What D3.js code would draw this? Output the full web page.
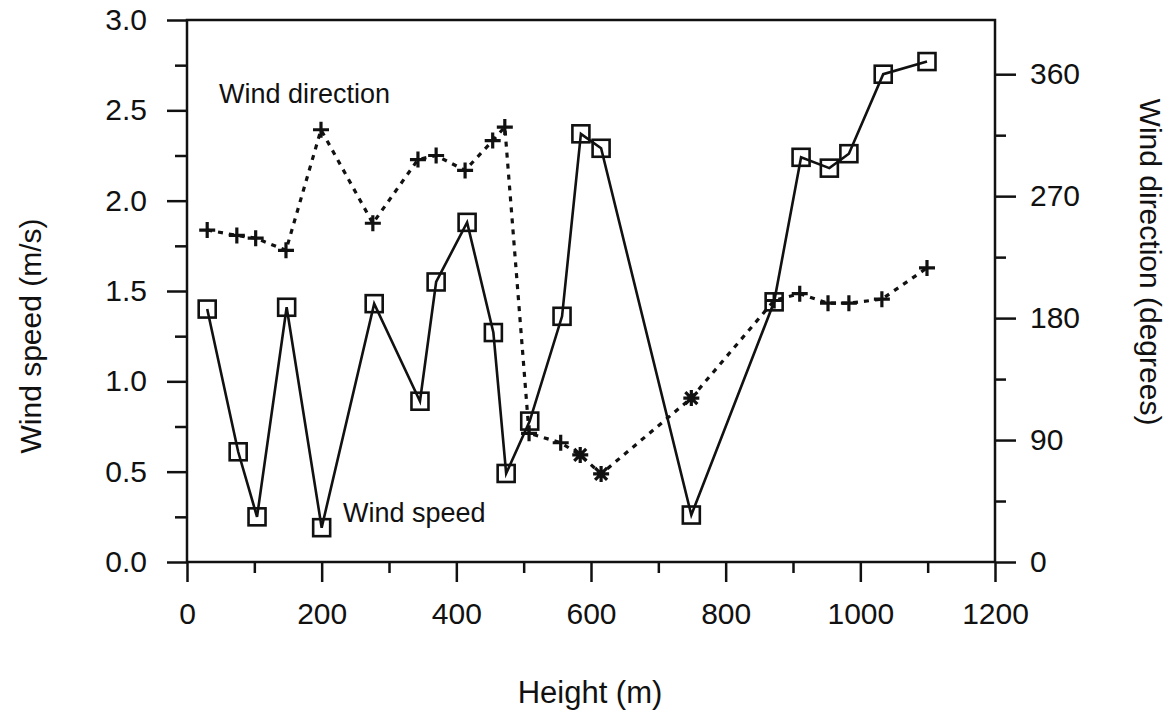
<!DOCTYPE html>
<html>
<head>
<meta charset="utf-8">
<script src="https://cdn.jsdelivr.net/npm/d3@7"></script>
<style>
	body { margin: 0; background: #fff; }
	svg text { font-family: "Liberation Sans", Arial, Helvetica, sans-serif; fill: #111; }
	.axis line { stroke: #111; stroke-width: 2.5; }
	.axis path { display: none; }
</style>
</head>
<body>
<script>

// wind speed profile (squares)
var speedHeight = [30, 76, 104, 148, 200, 278, 346, 370, 416, 455, 474, 509, 557, 585, 615, 749, 872, 912, 954, 983, 1034, 1099];
var windSpeed   = [1.40, 0.61, 0.25, 1.41, 0.19, 1.43, 0.89, 1.55, 1.88, 1.27, 0.49, 0.78, 1.36, 2.37, 2.29, 0.26, 1.44, 2.24, 2.18, 2.26, 2.70, 2.77];

// wind direction profile (crosses)
var dirHeight = [30, 74, 102, 147, 199, 276, 343, 370, 413, 454, 472, 508, 555, 584, 615, 749, 872, 910, 952, 983, 1032, 1099];
var windDir   = [245, 241, 239, 230, 319, 250, 297, 300, 289, 311, 321, 95, 88, 79, 65, 121, 193, 198, 191, 191, 194, 217];
var dirMarker = ["+", "+", "+", "+", "+", "+", "+", "+", "+", "+", "+", "+", "+", "*", "*", "*", "+", "+", "+", "+", "+", "+"];

// ticks
var xMajor = [0, 200, 400, 600, 800, 1000, 1200];
var xMinor = [100, 300, 500, 700, 900, 1100];
var ySpeedMajor = [0, 0.5, 1.0, 1.5, 2.0, 2.5, 3.0];
var ySpeedMinor = [0.25, 0.75, 1.25, 1.75, 2.25, 2.75];
var yDirMajor = [0, 90, 180, 270, 360];
var yDirMinor = [45, 135, 225, 315];

var width = 1173,
	height = 718;
var margin = {top: 20, right: 178, bottom: 156, left: 187};

var svg = d3.select("body").append("svg")
	.attr("width", width)
	.attr("height", height);

var x = d3.scaleLinear().domain([0, 1200]).range([margin.left, width - margin.right]);
var ySpeed = d3.scaleLinear().domain([0, 3]).range([height - margin.bottom, margin.top]);
var yDir = d3.scaleLinear().domain([0, 400]).range([height - margin.bottom, margin.top]);

var x0 = x.range()[0], x1 = x.range()[1];
var yb = ySpeed.range()[0], yt = ySpeed.range()[1];

// axes
svg.append("g").attr("class", "axis")
	.attr("transform", "translate(0," + yb + ")")
	.call(d3.axisBottom(x).tickValues(xMajor).tickSize(20).tickPadding(21).tickFormat(d3.format("d")))
	.selectAll("text").style("font-size", "30px");
svg.append("g").attr("class", "axis")
	.attr("transform", "translate(0," + yb + ")")
	.call(d3.axisBottom(x).tickValues(xMinor).tickSize(11).tickFormat(""));

svg.append("g").attr("class", "axis")
	.attr("transform", "translate(" + x0 + ",0)")
	.call(d3.axisLeft(ySpeed).tickValues(ySpeedMajor).tickSize(20).tickPadding(20).tickFormat(d3.format(".1f")))
	.selectAll("text").style("font-size", "30px");
svg.append("g").attr("class", "axis")
	.attr("transform", "translate(" + x0 + ",0)")
	.call(d3.axisLeft(ySpeed).tickValues(ySpeedMinor).tickSize(12).tickFormat(""));

svg.append("g").attr("class", "axis")
	.attr("transform", "translate(" + x1 + ",0)")
	.call(d3.axisRight(yDir).tickValues(yDirMajor).tickSize(21).tickPadding(14).tickFormat(d3.format("d")))
	.selectAll("text").style("font-size", "30px");
svg.append("g").attr("class", "axis")
	.attr("transform", "translate(" + x1 + ",0)")
	.call(d3.axisRight(yDir).tickValues(yDirMinor).tickSize(11).tickFormat(""));

// frame
svg.append("rect")
	.attr("x", x0).attr("y", yt)
	.attr("width", x1 - x0).attr("height", yb - yt)
	.attr("fill", "none").attr("stroke", "#111").attr("stroke-width", 2.5);

// axis titles
svg.append("text")
	.attr("transform", "translate(41," + 336 + ")rotate(-90)")
	.attr("text-anchor", "middle")
	.style("font-size", "30px")
	.text("Wind speed (m/s)");

svg.append("text")
	.attr("transform", "translate(1140," + 262 + ")rotate(90)")
	.attr("text-anchor", "middle")
	.style("font-size", "30px")
	.text("Wind direction (degrees)");

svg.append("text")
	.attr("x", 590).attr("y", 703)
	.attr("text-anchor", "middle")
	.style("font-size", "31px")
	.text("Height (m)");

// wind direction, dashed
var dirData = dirHeight.map((h, i) => ({h: h, v: windDir[i], m: dirMarker[i]}));

svg.append("path")
	.datum(dirData)
	.attr("fill", "none")
	.attr("stroke", "#111")
	.attr("stroke-width", 3.2)
	.attr("stroke-dasharray", "5,6")
	.attr("d", d3.line().x(d => x(d.h)).y(d => yDir(d.v)));

var crosses = svg.selectAll(".cross")
	.data(dirData)
	.enter().append("g")
	.attr("class", "cross")
	.attr("transform", d => "translate(" + x(d.h) + "," + yDir(d.v) + ")");

crosses.append("path")
	.attr("fill", "none")
	.attr("stroke", "#111")
	.attr("stroke-width", 3.2)
	.attr("d", function(d){
		if (d.m == "*") return "M-8,0H8M0,-8V8M-6,-6L6,6M-6,6L6,-6";
		return "M-8,0H8M0,-8V8";
	});

// wind speed, solid
var speedData = speedHeight.map((h, i) => ({h: h, v: windSpeed[i]}));

svg.append("path")
	.datum(speedData)
	.attr("fill", "none")
	.attr("stroke", "#111")
	.attr("stroke-width", 2.6)
	.attr("d", d3.line().x(d => x(d.h)).y(d => ySpeed(d.v)));

svg.selectAll(".sq")
	.data(speedData)
	.enter().append("rect")
	.attr("class", "sq")
	.attr("x", d => x(d.h) - 8.5)
	.attr("y", d => ySpeed(d.v) - 8.5)
	.attr("width", 17)
	.attr("height", 17)
	.attr("fill", "none")
	.attr("stroke", "#111")
	.attr("stroke-width", 2.6);

// labels in plot
svg.append("text")
	.attr("x", 219).attr("y", 103)
	.style("font-size", "27px")
	.text("Wind direction");

svg.append("text")
	.attr("x", 343).attr("y", 522)
	.style("font-size", "27px")
	.text("Wind speed");

</script>
</body>
</html>
